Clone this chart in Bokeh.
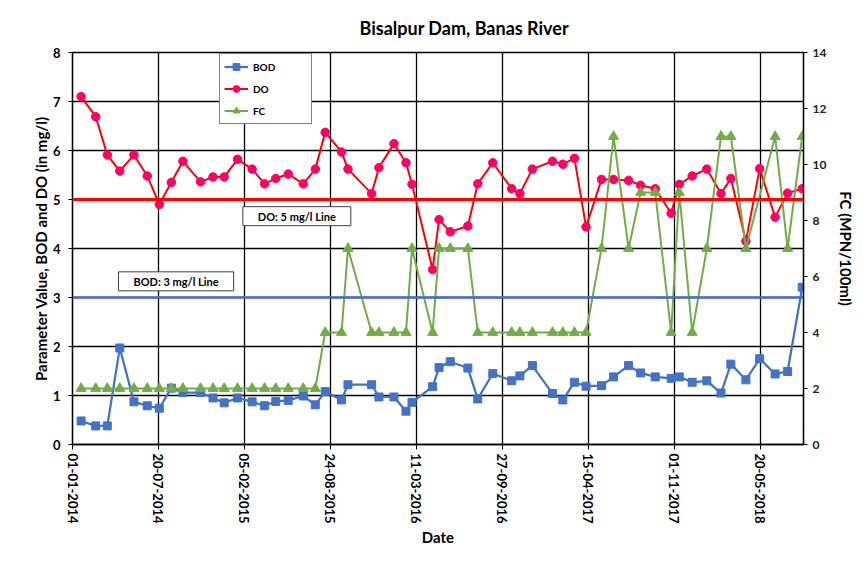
from datetime import datetime
import numpy as np
from bokeh.plotting import figure
from bokeh.models import (Range1d, LinearAxis, FixedTicker, DatetimeTickFormatter,
                          Legend, LegendItem, Label, Span, ColumnDataSource)
from bokeh.embed import file_html
from bokeh.resources import INLINE

# ---------------- data ----------------
dates = [
    "2014-01-21", "2014-02-24", "2014-03-23", "2014-04-21", "2014-05-24", "2014-06-24", "2014-07-22", "2014-08-19", "2014-09-15",
    "2014-10-26", "2014-11-24", "2014-12-20", "2015-01-20", "2015-02-23", "2015-03-24", "2015-04-19", "2015-05-18", "2015-06-22", "2015-07-20",
    "2015-08-12", "2015-09-19", "2015-10-04", "2015-11-28", "2015-12-15", "2016-01-19", "2016-02-16", "2016-03-01", "2016-04-18", "2016-05-03",
    "2016-05-29", "2016-07-09", "2016-08-01", "2016-09-05", "2016-10-19", "2016-11-07", "2016-12-06", "2017-01-22", "2017-02-15",
    "2017-03-14", "2017-04-10", "2017-05-16", "2017-06-13", "2017-07-18", "2017-08-15", "2017-09-18", "2017-10-25", "2017-11-13", "2017-12-13",
    "2018-01-16", "2018-02-18", "2018-03-13", "2018-04-17", "2018-05-19", "2018-06-24", "2018-07-23", "2018-08-26",
]
bod = [
    0.48, 0.38, 0.38, 1.97, 0.87, 0.79, 0.74, 1.15, 1.06,
    1.06, 0.95, 0.85, 0.95, 0.87, 0.79, 0.88, 0.90, 0.99, 0.81,
    1.08, 0.91, 1.22, 1.22, 0.97, 0.97, 0.68, 0.86, 1.18, 1.57,
    1.69, 1.56, 0.93, 1.45, 1.30, 1.40, 1.61, 1.04, 0.91,
    1.27, 1.19, 1.20, 1.38, 1.61, 1.46, 1.38, 1.35, 1.38, 1.27,
    1.30, 1.05, 1.64, 1.32, 1.75, 1.44, 1.49, 3.21,
]
do = [
    7.10, 6.69, 5.91, 5.58, 5.91, 5.48, 4.90, 5.35, 5.78,
    5.36, 5.46, 5.46, 5.82, 5.62, 5.32, 5.43, 5.52, 5.32, 5.62,
    6.37, 5.97, 5.62, 5.12, 5.65, 6.14, 5.75, 5.31, 3.57, 4.59,
    4.34, 4.46, 5.32, 5.75, 5.22, 5.12, 5.62, 5.78, 5.72,
    5.84, 4.44, 5.41, 5.41, 5.39, 5.29, 5.22, 4.72, 5.31, 5.48,
    5.62, 5.12, 5.43, 4.15, 5.63, 4.64, 5.13, 5.22,
]
fc = [
    2, 2, 2, 2, 2, 2, 2, 2, 2,
    2, 2, 2, 2, 2, 2, 2, 2, 2, 2,
    4, 4, 7, 4, 4, 4, 4, 7, 4, 7,
    7, 7, 4, 4, 4, 4, 4, 4, 4,
    4, 4, 7, 11, 7, 9, 9, 4, 9, 4,
    7, 11, 11, 7, None, 11, 7, 11,
]
do_limit = 5
bod_limit = 3
x_ticks = ["2014-01-01", "2014-07-20", "2015-02-05", "2015-08-24", "2016-03-11",
           "2016-09-27", "2017-04-15", "2017-11-01", "2018-05-20"]
left_ticks = [0, 1, 2, 3, 4, 5, 6, 7, 8]
right_ticks = [0, 2, 4, 6, 8, 10, 12, 14]

# ---------------- helpers ----------------
def ms(s):
    return (datetime.strptime(s, "%Y-%m-%d") - datetime(1970, 1, 1)).total_seconds() * 1000.0

x = [ms(d) for d in dates]
fc_arr = np.array([np.nan if v is None else v for v in fc], dtype=float)
src = ColumnDataSource(dict(x=x, bod=bod, do=do, fc=fc_arr))
ok = ~np.isnan(fc_arr)
src_fc = ColumnDataSource(dict(x=np.array(x)[ok], fc=fc_arr[ok]))

FONT = "Lato"
BOD_C = "#4472C4"
DO_C = "#FF0000"
DO_M = "#FF0066"
FC_C = "#70AD47"

p = figure(width=858, height=564, x_axis_type="datetime",
           x_range=Range1d(ms("2014-01-01"), ms("2018-08-29")),
           y_range=Range1d(0, 8),
           output_backend="svg", toolbar_location=None,
           min_border_left=72, min_border_right=51, min_border_top=52, min_border_bottom=120)
p.extra_y_ranges = {"fc": Range1d(0, 14)}

p.title.text = "Bisalpur Dam, Banas River"
p.title.align = "left"
p.title.offset = 287
p.title.text_font = FONT
p.title.text_font_size = "18px"
p.title.text_font_style = "bold"
p.title.text_color = "black"
p.title.standoff = 27

p.outline_line_color = "black"
p.outline_line_width = 1.3
p.background_fill_color = "white"
p.border_fill_color = "white"

# x axis
xax = p.xaxis[0]
xax.ticker = FixedTicker(ticks=[ms(t) for t in x_ticks])
fmt = "%d-%m-%Y"
xax.formatter = DatetimeTickFormatter(milliseconds=fmt, seconds=fmt, minsec=fmt, minutes=fmt,
                                      hourmin=fmt, hours=fmt, days=fmt, months=fmt, years=fmt)
xax.major_label_orientation = "vertical"
xax.axis_label = "Date"
xax.axis_label_text_font = FONT
xax.axis_label_text_font_size = "15px"
xax.axis_label_text_font_style = "bold"
xax.axis_label_text_color = "black"
xax.axis_label_standoff = 1
xax.major_label_text_font = FONT
xax.major_label_text_font_size = "13px"
xax.major_label_text_font_style = "bold"
xax.major_label_text_color = "black"
xax.major_label_standoff = 4
xax.minor_tick_line_color = None
xax.major_tick_out = 5
xax.major_tick_in = 0
xax.axis_line_color = "black"
xax.axis_line_width = 1.3

# left axis
yax = p.yaxis[0]
yax.ticker = FixedTicker(ticks=left_ticks)
yax.axis_label = "Parameter Value, BOD and DO (in mg/l)"
yax.axis_label_text_font = FONT
yax.axis_label_text_font_size = "15px"
yax.axis_label_text_font_style = "bold"
yax.axis_label_text_color = "black"
yax.axis_label_standoff = 0
yax.major_label_text_font = FONT
yax.major_label_text_font_size = "13px"
yax.major_label_text_font_style = "bold"
yax.major_label_text_color = "black"
yax.major_label_standoff = 8
yax.minor_tick_line_color = None
yax.major_tick_out = 4
yax.major_tick_in = 0
yax.axis_line_color = "black"
yax.axis_line_width = 1.3

# right axis
rax = LinearAxis(y_range_name="fc", ticker=FixedTicker(ticks=right_ticks),
                 axis_label="FC (MPN/100ml)")
rax.axis_label_text_font = FONT
rax.axis_label_text_font_size = "15px"
rax.axis_label_text_font_style = "bold"
rax.axis_label_text_color = "black"
rax.axis_label_standoff = 8
if hasattr(rax, "axis_label_orientation"):
    rax.axis_label_orientation = "vertical"
rax.major_label_text_font = FONT
rax.major_label_text_font_size = "12px"
rax.major_label_text_font_style = "bold"
rax.major_label_text_color = "#222222"
rax.major_label_standoff = 5
rax.minor_tick_line_color = None
rax.major_tick_out = 4
rax.major_tick_in = 0
rax.axis_line_color = "black"
rax.axis_line_width = 1.3
p.add_layout(rax, "right")

# grids
p.xgrid.grid_line_color = "black"
p.xgrid.grid_line_width = 1.3
p.ygrid.grid_line_color = "black"
p.ygrid.grid_line_width = 1.3

# limit lines
p.add_layout(Span(location=do_limit, dimension="width", line_color=DO_C, line_width=3))
p.add_layout(Span(location=bod_limit, dimension="width", line_color=BOD_C, line_width=2.5))

# series
bl = p.line("x", "bod", source=src, line_color=BOD_C, line_width=2.25)
bs = p.scatter("x", "bod", source=src, marker="square", size=8, fill_color=BOD_C, line_color=BOD_C)
dl = p.line("x", "do", source=src, line_color=DO_C, line_width=2)
ds = p.scatter("x", "do", source=src, marker="circle", size=8.5, fill_color=DO_M, line_color=DO_M)
fl = p.line("x", "fc", source=src_fc, line_color=FC_C, line_width=2, y_range_name="fc")
fs = p.scatter("x", "fc", source=src, marker="triangle", size=10, fill_color=FC_C, line_color=FC_C,
               y_range_name="fc")

legend = Legend(items=[LegendItem(label="BOD", renderers=[bl, bs]),
                       LegendItem(label="DO", renderers=[dl, ds]),
                       LegendItem(label="FC", renderers=[fl, fs])],
                location=(147, 320))
legend.padding = 4
legend.margin = 0
legend.spacing = 5
legend.glyph_width = 24
legend.glyph_height = 17
legend.label_height = 17
legend.label_width = 54
legend.label_standoff = 5
legend.label_text_font = FONT
legend.label_text_font_size = "10px"
legend.label_text_font_style = "bold"
legend.label_text_color = "black"
legend.border_line_color = "black"
legend.border_line_width = 1
legend.background_fill_color = "white"
legend.background_fill_alpha = 1
p.add_layout(legend)

# threshold annotations
for txt, dx, yv in [("DO: 5 mg/l Line", "2015-06-07", 4.66), ("BOD: 3 mg/l Line", "2014-08-30", 3.33)]:
    p.add_layout(Label(x=ms(dx), y=yv, text=txt, text_align="center", text_baseline="middle",
                       text_font=FONT, text_font_size="11px", text_font_style="bold",
                       text_color="black", border_line_color="#404040", border_line_width=1,
                       background_fill_color="white",
                       padding=dict(left=15, right=15, top=3, bottom=3)))

open("out.html", "w").write(file_html(p, INLINE))
